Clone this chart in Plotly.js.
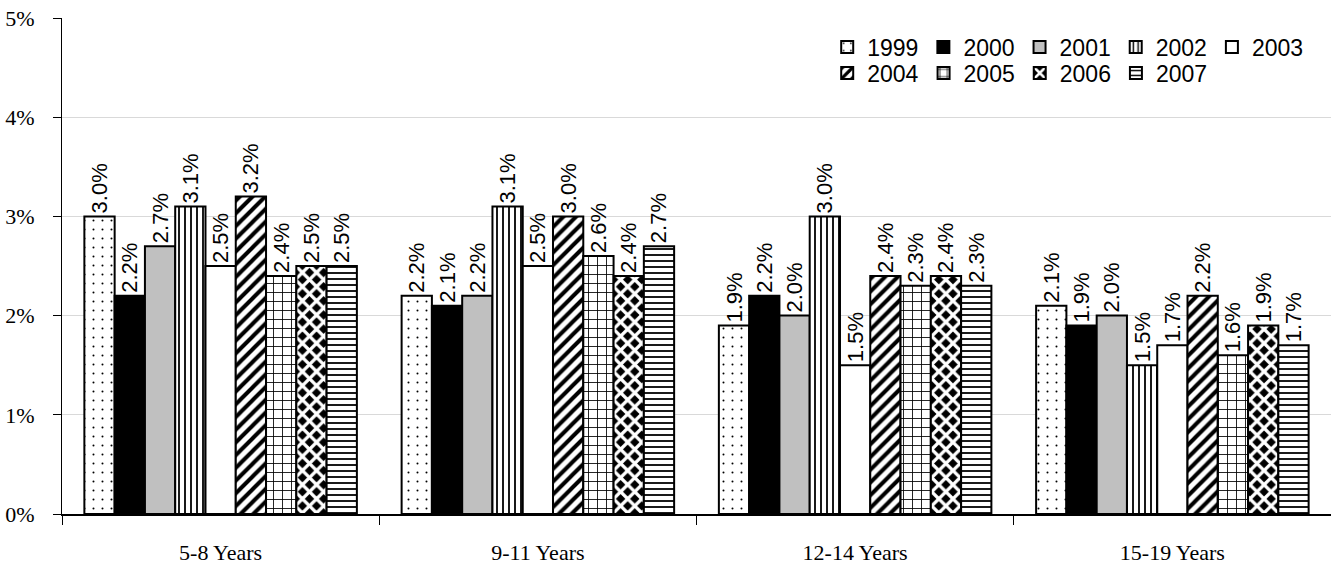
<!DOCTYPE html>
<html>
<head>
<meta charset="utf-8">
<script src="https://cdn.plot.ly/plotly-3.0.1.min.js"></script>
<style>
html,body{margin:0;padding:0;background:#fff;}
#chart{width:1331px;height:571px;}
</style>
</head>
<body>
<div id="chart"></div>
<script>
var categories = ['5-8 Years', '9-11 Years', '12-14 Years', '15-19 Years'];
var years = ['1999', '2000', '2001', '2002', '2003', '2004', '2005', '2006', '2007'];
var v1999 = [0.030, 0.022, 0.019, 0.021];
var v2000 = [0.022, 0.021, 0.022, 0.019];
var v2001 = [0.027, 0.022, 0.020, 0.020];
var v2002 = [0.031, 0.031, 0.030, 0.015];
var v2003 = [0.025, 0.025, 0.015, 0.017];
var v2004 = [0.032, 0.030, 0.024, 0.022];
var v2005 = [0.024, 0.026, 0.023, 0.016];
var v2006 = [0.025, 0.024, 0.024, 0.019];
var v2007 = [0.025, 0.027, 0.023, 0.017];
var values = [v1999, v2000, v2001, v2002, v2003, v2004, v2005, v2006, v2007];
var yTickVals = [0, 0.01, 0.02, 0.03, 0.04, 0.05];

var styles = [
  {color: '#ffffff', pattern: {shape: '.', fgcolor: '#000000', bgcolor: '#ffffff', size: 9, solidity: 0.04, fillmode: 'replace'}},
  {color: '#000000'},
  {color: '#c0c0c0'},
  {color: '#ffffff', pattern: {shape: '|', fgcolor: '#000000', bgcolor: '#ffffff', size: 6, solidity: 0.3, fillmode: 'replace'}},
  {color: '#ffffff'},
  {color: '#ffffff', pattern: {shape: '/', fgcolor: '#000000', bgcolor: '#ffffff', size: 9, solidity: 0.45, fillmode: 'replace'}},
  {color: '#ffffff', pattern: {shape: '+', fgcolor: '#000000', bgcolor: '#ffffff', size: 9, solidity: 0.18, fillmode: 'replace'}},
  {color: '#000000', pattern: {shape: 'x', fgcolor: '#ffffff', bgcolor: '#000000', size: 10, solidity: 0.55, fillmode: 'replace'}},
  {color: '#ffffff', pattern: {shape: '-', fgcolor: '#000000', bgcolor: '#ffffff', size: 6, solidity: 0.3, fillmode: 'replace'}}
];

var traces = years.map(function (yr, i) {
  var m = {color: styles[i].color, line: {color: '#000000', width: 2}};
  if (styles[i].pattern) m.pattern = styles[i].pattern;
  return {
    type: 'bar',
    name: yr,
    x: categories,
    y: values[i],
    marker: m,
    text: values[i].map(function (v) { return (v * 100).toFixed(1) + '%'; }),
    textposition: 'outside',
    textangle: -90,
    constraintext: 'none',
    cliponaxis: false,
    textfont: {family: 'Liberation Sans, Arial, sans-serif', size: 22, color: '#000000'},
    legend: i < 5 ? 'legend' : 'legend2',
    hoverinfo: 'skip'
  };
});

var legendFont = {family: 'Liberation Sans, Arial, sans-serif', size: 23, color: '#000000'};

var layout = {
  width: 1331,
  height: 571,
  margin: {l: 62, r: 0, t: 18, b: 57},
  paper_bgcolor: '#ffffff',
  plot_bgcolor: '#ffffff',
  barmode: 'group',
  bargap: 0.141,
  bargroupgap: 0,
  showlegend: true,
  legend: {orientation: 'h', x: 0.603, xanchor: 'left', y: 0.9415, yanchor: 'middle', font: legendFont, bgcolor: 'rgba(0,0,0,0)', traceorder: 'normal'},
  legend2: {orientation: 'h', x: 0.603, xanchor: 'left', y: 0.889, yanchor: 'middle', font: legendFont, bgcolor: 'rgba(0,0,0,0)', traceorder: 'normal'},
  xaxis: {
    type: 'category',
    tickson: 'boundaries',
    ticks: 'outside',
    ticklen: 9,
    tickwidth: 1,
    tickcolor: '#000000',
    showline: true,
    linecolor: '#000000',
    linewidth: 2,
    showgrid: false,
    ticklabelstandoff: 18,
    tickfont: {family: 'Liberation Serif, Times New Roman, serif', size: 22, color: '#000000'},
    fixedrange: true
  },
  yaxis: {
    range: [0, 0.05],
    tickvals: yTickVals,
    tickformat: '.0%',
    ticks: 'outside',
    ticklen: 8,
    tickwidth: 1,
    tickcolor: '#000000',
    showline: true,
    linecolor: '#000000',
    linewidth: 1,
    showgrid: true,
    gridcolor: '#d9d9d9',
    gridwidth: 1,
    zeroline: false,
    ticklabelstandoff: 14,
    tickfont: {family: 'Liberation Serif, Times New Roman, serif', size: 22, color: '#000000'},
    fixedrange: true
  }
};

Plotly.newPlot('chart', traces, layout, {displayModeBar: false, staticPlot: true});
</script>
</body>
</html>
